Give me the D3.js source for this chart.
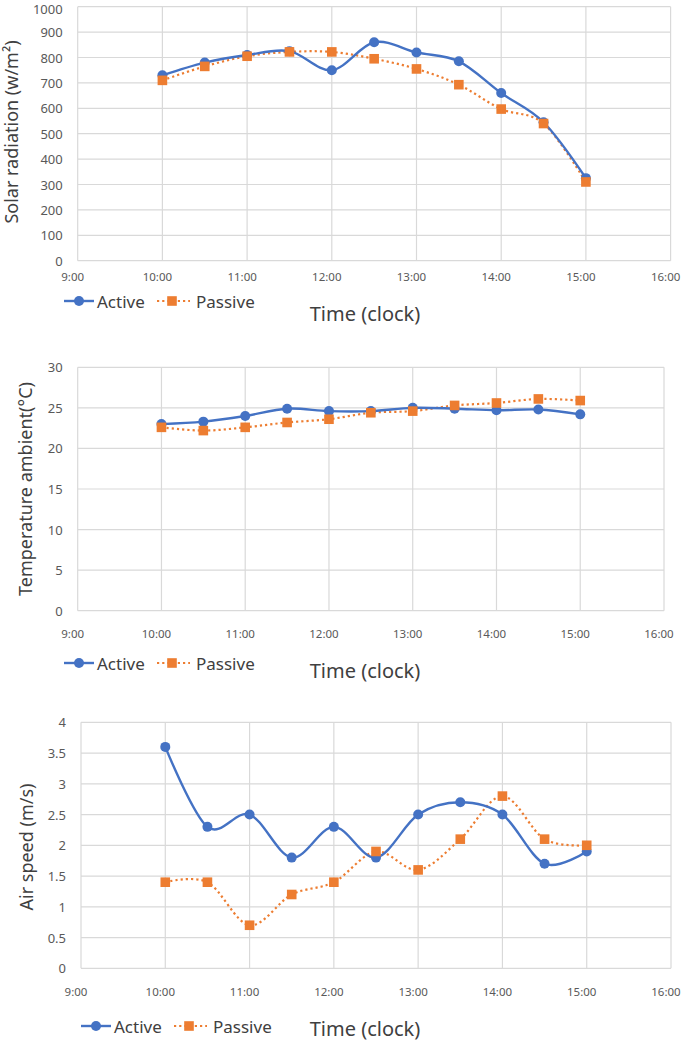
<!DOCTYPE html>
<html>
<head>
<meta charset="utf-8">
<script src="https://cdn.jsdelivr.net/npm/d3@7"></script>
<style>
  body { margin: 0; background: #fff; }
  svg { display: block; font-family: "Noto Sans", "Open Sans", sans-serif; }
</style>
</head>
<body>
<svg id="chart" width="685" height="1040"></svg>
<script>
// ---------- data ----------
const times = [10, 10.5, 11, 11.5, 12, 12.5, 13, 13.5, 14, 14.5, 15]; // hours
const xTickValues = [9, 10, 11, 12, 13, 14, 15, 16];
const xTickLabels = ["9:00", "10:00", "11:00", "12:00", "13:00", "14:00", "15:00", "16:00"];
const seriesNames = ["Active", "Passive"];

const solarActive  = [730, 780, 810, 825, 750, 860, 820, 785, 660, 545, 325];
const solarPassive = [710, 765, 805, 822, 822, 795, 755, 693, 597, 540, 310];
const solarTicks   = [0, 100, 200, 300, 400, 500, 600, 700, 800, 900, 1000];

const tempActive  = [23.0, 23.3, 24.0, 24.9, 24.6, 24.6, 25.0, 24.9, 24.7, 24.8, 24.2];
const tempPassive = [22.6, 22.2, 22.6, 23.2, 23.6, 24.4, 24.6, 25.3, 25.6, 26.1, 25.9];
const tempTicks   = [0, 5, 10, 15, 20, 25, 30];

const airActive  = [3.6, 2.3, 2.5, 1.8, 2.3, 1.8, 2.5, 2.7, 2.5, 1.7, 1.9];
const airPassive = [1.4, 1.4, 0.7, 1.2, 1.4, 1.9, 1.6, 2.1, 2.8, 2.1, 2.0];
const airTicks   = [0, 0.5, 1, 1.5, 2, 2.5, 3, 3.5, 4];

// ---------- layout / style ----------
const BLUE = "#4472C4", ORANGE = "#ED7D31";
const GRID = "#d9d9d9", TXT = "#595959", TITLE = "#404040";

const charts = [
  { active: solarActive, passive: solarPassive, ticks: solarTicks,
    box: { l: 77.7, r: 670.6, t: 6.7, b: 260.7 },
    xLabelY: 276.5, legend: { x: 64, y: 301 }, timeY: 313,
    yTitle: { x: 11, y: 132, text: "Solar radiation (w/m²)" } },
  { active: tempActive, passive: tempPassive, ticks: tempTicks,
    box: { l: 77.7, r: 664, t: 367.3, b: 610.7 },
    xLabelY: 633.5, legend: { x: 64, y: 663 }, timeY: 670,
    yTitle: { x: 25, y: 489, text: "Temperature ambient(°C)" } },
  { active: airActive, passive: airPassive, ticks: airTicks,
    box: { l: 81, r: 671, t: 722.3, b: 968.3 },
    xLabelY: 991, legend: { x: 81, y: 1026 }, timeY: 1028,
    yTitle: { x: 26, y: 847, text: "Air speed (m/s)" } }
];

const svg = d3.select("#chart");
const curve = d3.curveCardinal.tension(0);

charts.forEach(c => {
  const g = svg.append("g");
  const x = d3.scaleLinear().domain([9, 16]).range([c.box.l, c.box.r]);
  const y = d3.scaleLinear().domain([0, d3.max(c.ticks)]).range([c.box.b, c.box.t]);

  // horizontal gridlines
  g.append("g").selectAll("line").data(c.ticks).join("line")
    .attr("x1", c.box.l).attr("x2", c.box.r)
    .attr("y1", d => y(d)).attr("y2", d => y(d))
    .attr("stroke", GRID).attr("stroke-width", 1.2);
  // vertical gridlines
  g.append("g").selectAll("line").data(xTickValues).join("line")
    .attr("x1", d => x(d)).attr("x2", d => x(d))
    .attr("y1", c.box.t).attr("y2", c.box.b)
    .attr("stroke", GRID).attr("stroke-width", 1.2);

  // y tick labels (keep the topmost label inside the page)
  g.append("g").selectAll("text").data(c.ticks).join("text")
    .attr("x", c.box.l - 15).attr("y", d => Math.max(y(d), 9))
    .attr("text-anchor", "end").attr("dominant-baseline", "central")
    .attr("font-size", 13).attr("fill", TXT)
    .text(d => d);

  // x tick labels
  g.append("g").selectAll("text").data(xTickValues).join("text")
    .attr("x", d => x(d) - 5).attr("y", c.xLabelY)
    .attr("text-anchor", "middle").attr("dominant-baseline", "central")
    .attr("font-size", 11.5).attr("fill", TXT)
    .text((d, i) => xTickLabels[i]);

  // y title
  g.append("text")
    .attr("transform", `translate(${c.yTitle.x},${c.yTitle.y}) rotate(-90)`)
    .attr("text-anchor", "middle").attr("dominant-baseline", "central")
    .attr("font-size", 18).attr("fill", TITLE)
    .text(c.yTitle.text);

  // x title
  g.append("text")
    .attr("x", 365).attr("y", c.timeY)
    .attr("text-anchor", "middle").attr("dominant-baseline", "central")
    .attr("font-size", 20).attr("fill", TITLE)
    .text("Time (clock)");

  const line = d3.line().x((d, i) => x(times[i])).y(d => y(d)).curve(curve);

  // passive series (drawn first)
  g.append("path").datum(c.passive)
    .attr("d", line).attr("fill", "none")
    .attr("stroke", ORANGE).attr("stroke-width", 2.2)
    .attr("stroke-dasharray", "2.2,3");
  // active series
  g.append("path").datum(c.active)
    .attr("d", line).attr("fill", "none")
    .attr("stroke", BLUE).attr("stroke-width", 2.4);

  // active markers
  g.append("g").selectAll("circle").data(c.active).join("circle")
    .attr("cx", (d, i) => x(times[i])).attr("cy", d => y(d))
    .attr("r", 5).attr("fill", BLUE);
  // passive markers
  g.append("g").selectAll("rect").data(c.passive).join("rect")
    .attr("x", (d, i) => x(times[i]) - 4.8).attr("y", d => y(d) - 4.8)
    .attr("width", 9.6).attr("height", 9.6).attr("fill", ORANGE);

  // legend
  const lg = g.append("g").attr("transform", `translate(${c.legend.x},${c.legend.y})`);
  lg.append("line").attr("x1", 0).attr("x2", 30).attr("y1", 0).attr("y2", 0)
    .attr("stroke", BLUE).attr("stroke-width", 2.4);
  lg.append("circle").attr("cx", 15).attr("cy", 0).attr("r", 5).attr("fill", BLUE);
  lg.append("text").attr("x", 33).attr("y", 0).attr("dominant-baseline", "central")
    .attr("font-size", 17).attr("fill", TITLE).text(seriesNames[0]);
  lg.append("line").attr("x1", 93).attr("x2", 126).attr("y1", 0).attr("y2", 0)
    .attr("stroke", ORANGE).attr("stroke-width", 2.2).attr("stroke-dasharray", "2.2,3");
  lg.append("rect").attr("x", 108 - 4.8).attr("y", -4.8).attr("width", 9.6).attr("height", 9.6)
    .attr("fill", ORANGE);
  lg.append("text").attr("x", 132).attr("y", 0).attr("dominant-baseline", "central")
    .attr("font-size", 17).attr("fill", TITLE).text(seriesNames[1]);
});
</script>
</body>
</html>
